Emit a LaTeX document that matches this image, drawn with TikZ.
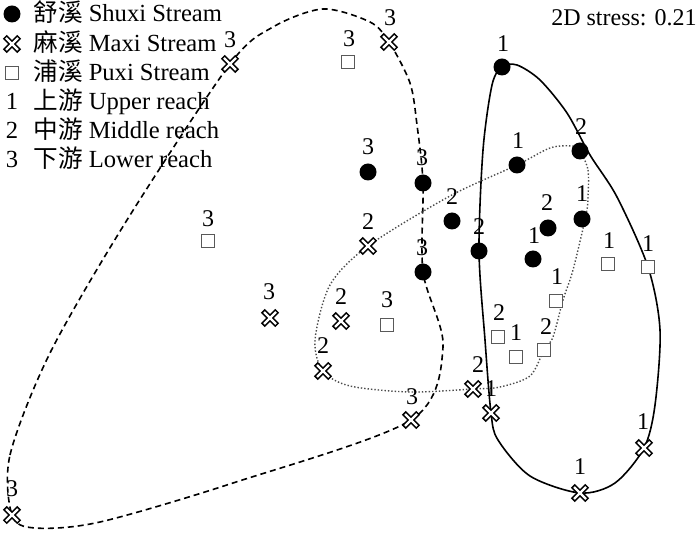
\documentclass[tikz,border=0pt]{standalone}
\usepackage{fontspec}
\setmainfont{Liberation Serif}
\newfontfamily\cjk{Noto Sans CJK SC}
\pgfdeclarelayer{background}
\pgfsetlayers{background,main}

\tikzset{
	shuxi/.style={circle, fill=black, minimum size=8.5pt, inner sep=0pt},
	puxi/.style={rectangle, draw=black!65, fill=white, line width=0.5pt, minimum size=6.3pt, inner sep=0pt},
	maxi/.style={rectangle, minimum size=11pt, inner sep=0pt, path picture={
		\draw[line width=2.7pt] (path picture bounding box.center) +(-3.6pt,-3.6pt) -- +(3.6pt,3.6pt) +(-3.6pt,3.6pt) -- +(3.6pt,-3.6pt);
		\draw[white, line width=1.1pt] (path picture bounding box.center) +(-3pt,-3pt) -- +(3pt,3pt) +(-3pt,3pt) -- +(3pt,-3pt);}},
	reach/.style={font=\fontsize{12}{14}\selectfont, inner sep=0pt},
	legend/.style={anchor=base west, font=\fontsize{12.3}{14}\selectfont, inner sep=0pt},
	hull/.style={line width=0.8pt},
}

\begin{document}
\begin{tikzpicture}[x=0.5pt, y=-0.5pt]
	\useasboundingbox (0,0) rectangle (700,533);
	% Legende
	\node[shuxi] (lgshuxi) at (12,14) {};
	\node[legend] (lgshuxitext) at (33,22) {{\cjk 舒溪} Shuxi Stream};
	\node[maxi] (lgmaxi) at (12,44) {};
	\node[legend] (lgmaxitext) at (33,52) {{\cjk 麻溪} Maxi Stream};
	\node[puxi] (lgpuxi) at (12,73) {};
	\node[legend] (lgpuxitext) at (33,81) {{\cjk 浦溪} Puxi Stream};
	\foreach \r/\y/\zh/\en in {1/102/上游/Upper reach, 2/131/中游/Middle reach, 3/160/下游/Lower reach}
	{
		\node[legend, anchor=base] (lgreach\r) at (12,\y+8) {\r};
		\node[legend] (lgreachtext\r) at (33,\y+8) {{\cjk \zh} \en};
	}
	\node[legend, font=\fontsize{12}{14}\selectfont, anchor=base east] (stress) at (697,26) {2D stress: 0.21};
	% Shuxi
	\foreach \n/\x/\y/\lx/\ly/\r in {s1/502/67/503/44/1, s2/580/151/581/127/2, s3/517/165/518/141/1,
		s4/368/172/368/147/3, s5/423/183/422/158/3, s6/452/221/452/197/2, s7/582/219/582/194/1,
		s8/548/228/547/203/2, s9/479/251/479/227/2, s10/533/259/534/236/1, s11/423/272/422/248/3}
	{
		\node[shuxi] (\n) at (\x,\y) {};
		\node[reach] (\n-l) at (\lx,\ly) {\r};
	}
	% Maxi
	\foreach \n/\x/\y/\lx/\ly/\r in {m1/230/64/230/40/3, m2/389/42/390/18/3, m3/368/246/368/222/2,
		m4/270/318/269/292/3, m5/341/321/341/297/2, m6/323/371/323/346/2, m7/473/389/478/365/2,
		m8/491/413/491/389/1, m9/411/420/412/397/3, m10/644/448/643/422/1, m11/580/493/580/467/1,
		m12/12/515/12/489/3}
	{
		\node[maxi] (\n) at (\x,\y) {};
		\node[reach] (\n-l) at (\lx,\ly) {\r};
	}
	% Puxi
	\foreach \n/\x/\y/\lx/\ly/\r in {p1/348/62/349/39/3, p2/208/241/208/219/3, p3/387/325/387/300/3,
		p4/608/264/609/241/1, p5/648/267/648/244/1, p6/556/301/557/277/1, p7/498/337/499/313/2,
		p8/516/357/516/333/1, p9/544/350/546/327/2}
	{
		\node[puxi] (\n) at (\x,\y) {};
		\node[reach] (\n-l) at (\lx,\ly) {\r};
	}
	% Umrisse
	\begin{pgfonlayer}{background}
		\draw[hull, dash pattern=on 3pt off 2pt] plot[smooth cycle] coordinates {(m12.center) (10,455)
			(50,353) (127,220) (m1.center) (273,27) (323,9) (370,22) (m2.center) (410,83) (417,125)
			(s5.center) (s11.center) (443,347) (m9.center) (233,483) (100,522) (35,528)};
		\draw[hull] plot[smooth cycle] coordinates {(s1.center) (517,65) (540,80) (567,113) (590,155)
			(617,197) (p5.center) (660,330) (655,405) (m10.center) (615,483) (m11.center) (530,476)
			(498,440) (m8.center) (485,340) (s9.center) (483,150) (492,85)};
		\draw[line width=0.7pt, black!70, densely dotted] plot[smooth cycle] coordinates {(s2.center)
			(588,170) (588,197) (586,215) (573,270) (563,300) (553,337) (p9.center) (530,376) (500,387)
			(m7.center) (410,392) (350,386) (m6.center) (315,340) (330,285) (m3.center) (450,196)
			(s3.center) (550,148) (572,146)};
	\end{pgfonlayer}
\end{tikzpicture}
\end{document}
